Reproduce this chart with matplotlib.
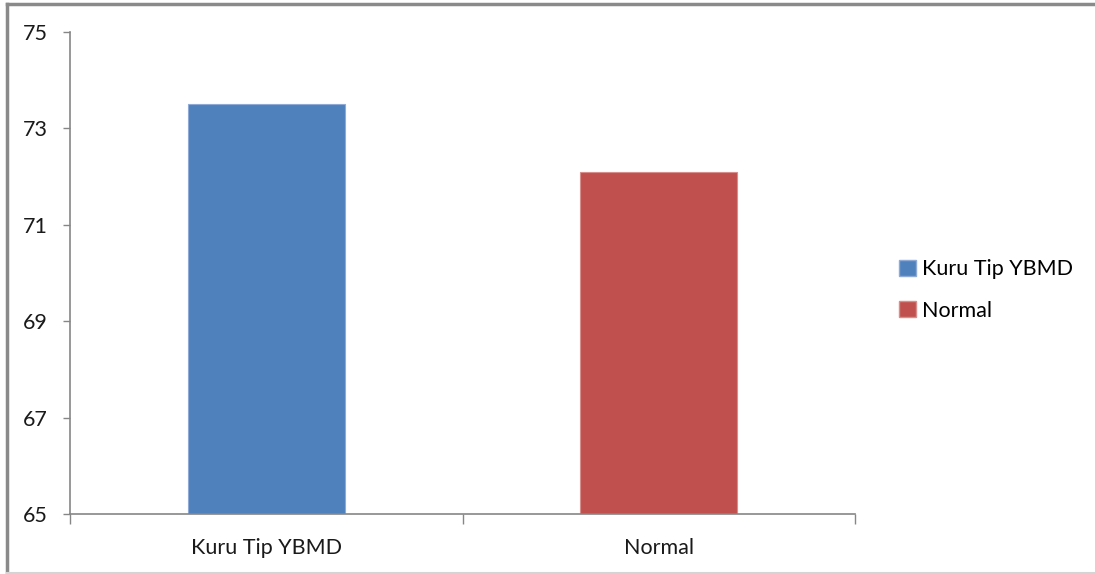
import matplotlib
matplotlib.use("Agg")
import matplotlib.pyplot as plt
from matplotlib.lines import Line2D
from matplotlib.patches import Patch

categories = ["Kuru Tip YBMD", "Normal"]
values = [73.5, 72.1]
colors = ["#4F81BD", "#C0504D"]
edge_colors = ["#8FAAD6", "#D88E8C"]
yticks = [65, 67, 69, 71, 73, 75]

plt.rcParams["font.family"] = ["Lato", "DejaVu Sans"]
AXIS_GREY = "#868686"
FS = 15.5

fig = plt.figure(figsize=(10.95, 5.74), dpi=100)
ax = fig.add_axes([70 / 1095, 60 / 574, 785 / 1095, 482 / 574])

x = list(range(len(categories)))
ax.bar(x, [v - 65 for v in values], bottom=65, width=0.4, color=colors,
       edgecolor=edge_colors, linewidth=0.8)

ax.set_xlim(-0.5, len(categories) - 0.5)
ax.set_ylim(65, 75)
ax.set_yticks(yticks)
ax.set_yticklabels([str(t) for t in yticks], fontsize=FS, color="#1a1a1a")

# category labels in the middle, tick marks on the boundaries
ax.set_xticks(x)
ax.set_xticklabels(categories, fontsize=FS, color="#1a1a1a")
ax.tick_params(axis="x", which="major", length=0, pad=17)
ax.set_xticks([-0.5, 0.5, 1.5], minor=True)
ax.tick_params(axis="x", which="minor", length=7, width=1, color=AXIS_GREY,
               direction="out", bottom=True)
ax.tick_params(axis="y", length=5, width=1, color=AXIS_GREY, pad=11)

for side in ("top", "right"):
    ax.spines[side].set_visible(False)
for side in ("left", "bottom"):
    ax.spines[side].set_color(AXIS_GREY)
    ax.spines[side].set_linewidth(1.2)

handles = [Patch(facecolor=c, edgecolor=e, label=l) for c, e, l in zip(colors, edge_colors, categories)]
fig.legend(handles=handles, loc="center left", bbox_to_anchor=(880 / 1095, 1 - 290 / 574),
           frameon=False, fontsize=FS, handlelength=0.75, handleheight=0.75,
           handletextpad=0.3, labelspacing=1.0)

# outer chart frame: top and left dark, bottom light
fx0, fy_top, fy_bot = 7 / 1095, 1 - 4 / 574, 1 / 574
fig.add_artist(Line2D([fx0, 1], [fy_top, fy_top], transform=fig.transFigure,
                      color="#8a8a8a", lw=2.5))
fig.add_artist(Line2D([fx0, fx0], [fy_bot, fy_top], transform=fig.transFigure,
                      color="#8a8a8a", lw=2.5))
fig.add_artist(Line2D([fx0, 1], [fy_bot, fy_bot], transform=fig.transFigure,
                      color="#d4d4d4", lw=1.5))

fig.savefig("out.png", dpi=100)
